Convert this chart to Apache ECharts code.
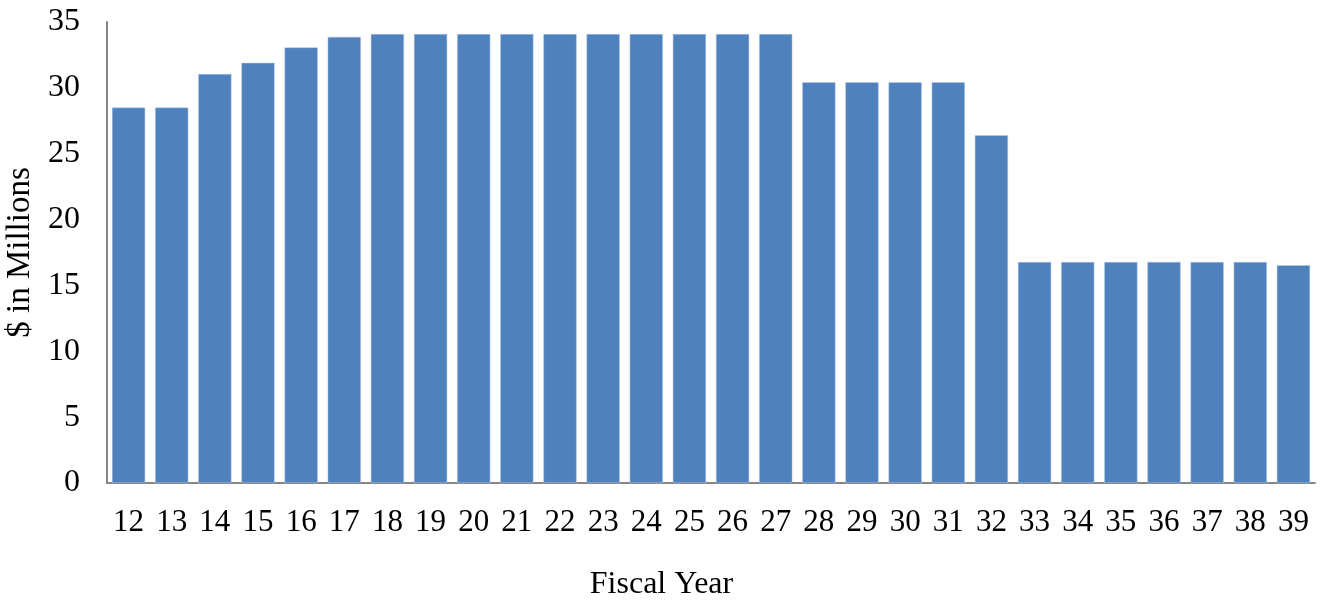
<!DOCTYPE html>
<html>
<head>
<meta charset="utf-8">
<script src="https://cdn.jsdelivr.net/npm/echarts@6/dist/echarts.min.js"></script>
<style>html,body{margin:0;padding:0;background:#fff}#c{width:1323px;height:600px}</style>
</head>
<body>
<div id="c"></div>
<script>
const categories = ['12','13','14','15','16','17','18','19','20','21','22','23','24','25','26','27','28','29','30','31','32','33','34','35','36','37','38','39'];
const values = [28.5,28.5,31.05,31.9,33.07,33.87,34.09,34.09,34.09,34.09,34.09,34.09,34.09,34.09,34.09,34.09,30.42,30.42,30.42,30.42,26.4,16.78,16.78,16.78,16.78,16.78,16.78,16.53];
const yTicks = [0,5,10,15,20,25,30,35];
const xTitle = 'Fiscal Year';
const yTitle = '$ in Millions';

const chart = echarts.init(document.getElementById('c'));
const font = '"Liberation Serif", "Times New Roman", serif';
chart.setOption({
  animation: false,
  grid: {left: 107, right: 8, top: 22, bottom: 117, containLabel: false, outerBoundsMode: 'none'},
  graphic: [{
    type: 'text', left: 'center', top: 569,
    style: {text: xTitle, font: '32px ' + font, fill: '#000'}
  }],
  xAxis: {
    type: 'category', data: categories,
    axisLine: {lineStyle: {color: '#868686', width: 2}},
    axisTick: {show: false},
    axisLabel: {fontFamily: font, fontSize: 31, color: '#000', margin: 24, interval: 0}
  },
  yAxis: {
    type: 'value', min: yTicks[0], max: yTicks[yTicks.length-1], interval: 5,
    name: yTitle, nameLocation: 'middle', nameGap: 62, nameRotate: 90,
    nameTextStyle: {fontFamily: font, fontSize: 33, color: '#000'},
    axisLine: {show: true, lineStyle: {color: '#868686', width: 2}},
    axisTick: {show: false},
    splitLine: {show: false},
    axisLabel: {fontFamily: font, fontSize: 32, color: '#000', margin: 27}
  },
  series: [{
    type: 'bar', data: values,
    barCategoryGap: '23%',
    itemStyle: {color: '#4F81BD', borderColor: '#B9CDE5', borderWidth: 0.5}
  }]
});
</script>
</body>
</html>
